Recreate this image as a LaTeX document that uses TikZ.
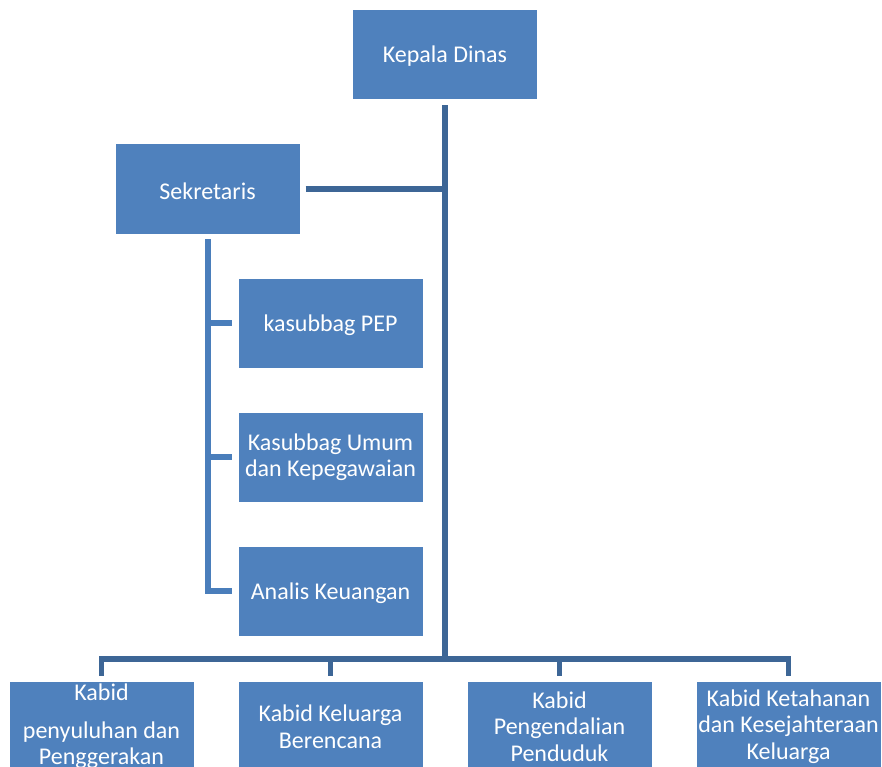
\documentclass[tikz,border=0pt]{standalone}
\usepackage{fontspec}
\setmainfont{Carlito}
\definecolor{boxblue}{HTML}{4F81BD}
\definecolor{darkline}{HTML}{3D6696}
\definecolor{lightline}{HTML}{4A7EBB}
\begin{document}
\begin{tikzpicture}[x=1pt,y=-1pt,
  orgtext/.style={text=white, align=center, inner sep=0pt,
    font=\fontsize{24}{26.5}\selectfont},
  orgbase/.style={fill=boxblue, draw=none, minimum width=184pt, minimum height=89pt, inner sep=0pt},
  orgbox/.style={orgbase, label={[orgtext, yshift=-2pt]center:{#1}}},
  orgboxm/.style={orgbase, label={[orgtext]center:{#1}}},
  darkconn/.style={draw=darkline, line width=5.5pt, line cap=butt, line join=miter},
  lightconn/.style={draw=lightline, line width=5.5pt, line cap=butt, line join=miter}]
\clip (0,0) rectangle (882,767);
\fill[white] (0,0) rectangle (882,767);
\node[orgbox={Kepala Dinas}] (kd) at (445,54.5) {};
\node[orgbox={Sekretaris}] (sek) at (207.5,189) {};
\node[orgbox={kasubbag PEP}] (pep) at (330.5,323) {};
\node[orgboxm={Kasubbag Umum\\dan Kepegawaian}] (umum) at (330.5,457) {};
\node[orgbox={Analis Keuangan}] (analis) at (330.5,591) {};
\node[orgboxm={Kabid\\[11pt]penyuluhan dan\\Penggerakan}] (b1) at (101.5,726.5) {};
\node[orgboxm={Kabid Keluarga\\Berencana}] (b2) at (330.5,726.5) {};
\node[orgboxm={Kabid\\Pengendalian\\Penduduk}] (b3) at (559.5,726.5) {};
\node[orgboxm={Kabid Ketahanan\\dan Kesejahteraan\\Keluarga}] (b4) at (788.5,726.5) {};
\coordinate (bus) at (445,659);
% trunk
\draw[darkconn, shorten <=6pt] (kd.south) -- (bus);
% sekretaris link
\draw[darkconn, shorten <=6pt] (sek.east) -- (sek.east -| bus);
% sekretaris subordinates
\draw[lightconn, shorten <=6pt, shorten >=6pt] (208,233) |- (analis.west);
\draw[lightconn, shorten >=6pt] (208,323) -- (pep.west);
\draw[lightconn, shorten >=6pt] (208,457) -- (umum.west);
% bottom bus
\draw[darkconn, shorten <=6pt, shorten >=6pt] (b1.north) |- (bus) -| (b4.north);
\draw[darkconn, shorten <=6pt] (b2.north) -- (b2.north |- bus);
\draw[darkconn, shorten <=6pt] (b3.north) -- (b3.north |- bus);
\end{tikzpicture}
\end{document}
